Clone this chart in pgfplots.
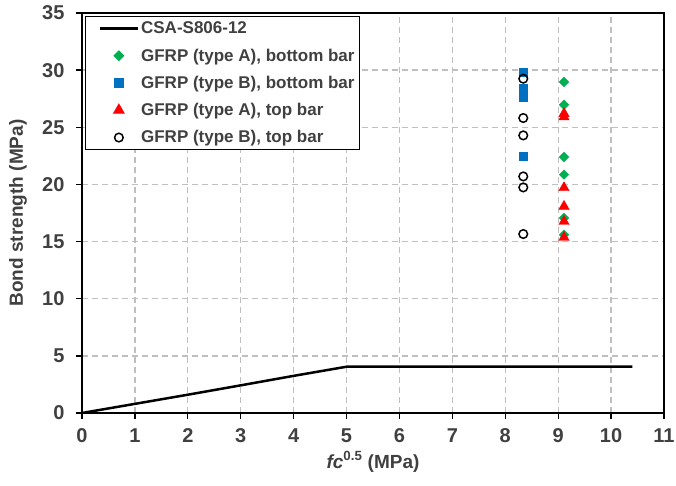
\documentclass[border=0pt]{standalone}
\usepackage{fontspec}
\setmainfont{Liberation Sans}
\usepackage{pgfplots}
\pgfplotsset{compat=1.18}
\definecolor{txt}{HTML}{404040}
\definecolor{gA}{HTML}{00B050}
\definecolor{bB}{HTML}{0070C0}
\definecolor{gridc}{HTML}{BFBFBF}

\begin{document}
\begin{tikzpicture}
\begin{axis}[
  scale only axis, width=582bp, height=400bp,
  xmin=0, xmax=11, ymin=0, ymax=35,
  xtick={0,1,...,11}, ytick={0,5,...,35},
  grid=major,
  grid style={gridc, line width=1.3bp, dash pattern=on 6bp off 4bp},
  axis line style={black, line width=1.5bp},
  tick style={black, line width=1.3bp},
  tick align=outside, major tick length=6bp,
  xtick pos=bottom, ytick pos=left,
  /pgf/number format/assume math mode=true,
  ticklabel style={font=\fontsize{20bp}{22bp}\selectfont\bfseries, text=txt},
  xticklabel style={yshift=-6bp},
  yticklabel style={xshift=-8bp},
  label style={font=\fontsize{19bp}{22bp}\selectfont\bfseries, text=txt},
  xlabel={{\itshape fc}\textsuperscript{0.5} (MPa)},
  ylabel={Bond strength (MPa)},
  xlabel style={at={(axis description cs:0.5,-0.1225)}, anchor=center},
  ylabel style={at={(axis description cs:-0.11,0.5)}, anchor=center},
  legend cell align=left,
  legend style={at={(0.0058,0.9915)}, anchor=north west,
    draw=black, line width=1bp, fill=white,
    font=\fontsize{17bp}{19bp}\selectfont\bfseries, text=txt,
    row sep=9.5bp, inner sep=3bp},
  legend image code/.code={%
    \path[draw=none, fill=none] (0bp,0bp) -- (10bp,0bp);
    \draw[mark repeat=2, mark phase=2] plot coordinates {(11bp,0bp) (30bp,0bp) (49bp,0bp)};},
]
\coordinate (sw) at (rel axis cs:0,0);
\coordinate (ne) at (rel axis cs:1,1);

\addplot[black, line width=2.5bp, no marks]
  coordinates {(0,0) (1,0.8) (2,1.6) (3,2.42) (4,3.25) (5,4.05) (10.4,4.05)};

\addplot[only marks, mark=square*, mark size=3.4bp, color=gA,
  mark options={rotate=45}]
  coordinates {(9.11,28.96) (9.11,26.97) (9.11,22.4) (9.11,20.86) (9.11,17.06) (9.11,15.6)};

\addplot[only marks, mark=square*, mark size=4.2bp, color=bB]
  coordinates {(8.34,29.83) (8.34,28.43) (8.34,28.0) (8.34,27.64) (8.34,22.45)};

\addplot[only marks, mark=triangle*, mark size=6bp, color=red]
  coordinates {(9.11,26.2) (9.11,25.9) (9.11,19.71) (9.11,18.08) (9.11,16.76) (9.11,15.36)};

\addplot[only marks, mark=o, mark size=4.3bp, color=black, line width=1.5bp]
  coordinates {(8.34,29.25) (8.34,25.81) (8.34,24.29) (8.34,20.7) (8.34,19.74) (8.34,15.66)};

\legend{CSA-S806-12, {GFRP (type A), bottom bar}, {GFRP (type B), bottom bar},
  {GFRP (type A), top bar}, {GFRP (type B), top bar}}
\end{axis}
\pgfresetboundingbox
\path ([shift={(-82bp,-73bp)}]sw) rectangle ([shift={(12bp,13bp)}]ne);
\end{tikzpicture}
\end{document}
